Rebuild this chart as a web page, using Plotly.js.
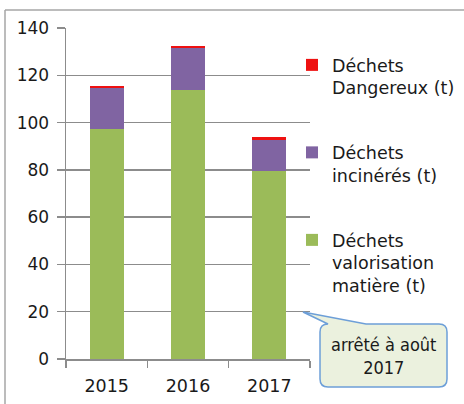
<!DOCTYPE html>
<html>
<head>
<meta charset="utf-8">
<script src="https://cdn.plot.ly/plotly-3.0.1.min.js"></script>
<style>html,body{margin:0;padding:0;background:#fff;}#chart{width:464px;height:404px;}</style>
</head>
<body>
<div id="chart"></div>
<script>
var years = ['2015', '2016', '2017'];
var valorisation = [97.2, 113.6, 79.7];
var incineres = [17.3, 17.9, 13.1];
var dangereux = [1.0, 1.0, 0.9];
var seriesNames = ['Déchets<br>valorisation<br>matière (t)', 'Déchets<br>incinérés (t)', 'Déchets<br>Dangereux (t)'];
var yTicks = [0, 20, 40, 60, 80, 100, 120, 140];
var noteText = 'arrêté à août<br>2017';

var W = 464, H = 404;
var M = {l: 66, r: 154, t: 28, b: 45, autoexpand: false};
var pw = W - M.l - M.r, ph = H - M.t - M.b;
function px(x) { return (x - M.l) / pw; }
function py(y) { return (H - M.b - y) / ph; }
function pt(x, y) { return px(x).toFixed(4) + ',' + py(y).toFixed(4); }

var font = '"DejaVu Sans", Verdana, sans-serif';
var noteFont = '"DejaVu Sans Condensed", "DejaVu Sans", sans-serif';
var txt = '#1a1a1a';
var colors = ['#9bbb59', '#8064a2', '#ee1111'];
var ranks = [3, 2, 1];
var vals = [valorisation, incineres, dangereux];
var traces = vals.map(function (v, i) {
  return {type: 'bar', x: years, y: v, name: seriesNames[i], legendgroup: 'g' + i, legendrank: ranks[i],
    marker: {color: colors[i], line: {width: 0}}, hoverinfo: 'y'};
});

var callout = 'M' + pt(328, 324) + ' L' + pt(303, 312) + ' L' + pt(366, 324) + ' L' + pt(439, 324) +
  ' Q' + pt(447, 324) + ' ' + pt(447, 332) + ' L' + pt(447, 379) + ' Q' + pt(447, 387) + ' ' + pt(439, 387) +
  ' L' + pt(328, 387) + ' Q' + pt(320, 387) + ' ' + pt(320, 379) + ' L' + pt(320, 332) +
  ' Q' + pt(320, 324) + ' ' + pt(328, 324) + ' Z';

var layout = {
  width: W, height: H,
  margin: M,
  paper_bgcolor: '#ffffff', plot_bgcolor: '#ffffff',
  barmode: 'stack', bargap: 0.58,
  font: {family: font, size: 16, color: txt},
  xaxis: {type: 'category', tickson: 'boundaries', ticks: 'outside', ticklen: 7, tickwidth: 1.5,
    tickcolor: '#8c8c8c', showline: true, linecolor: '#8c8c8c', linewidth: 1.5,
    showgrid: false, tickfont: {family: font, size: 17.5, color: txt}, ticklabelstandoff: 10},
  yaxis: {range: [0, 140], tickvals: yTicks, ticks: 'outside', ticklen: 8, tickwidth: 1.5,
    tickcolor: '#8c8c8c', showline: true, linecolor: '#8c8c8c', linewidth: 1.5,
    showgrid: true, gridcolor: '#8c8c8c', gridwidth: 1.5, zeroline: false,
    tickfont: {family: font, size: 17, color: txt}, ticklabelstandoff: 4},
  showlegend: true,
  legend: {x: px(292), xanchor: 'left', y: py(47), yanchor: 'top',
    traceorder: 'grouped', tracegroupgap: 39, valign: 'top',
    font: {family: font, size: 17.5, color: txt}, bgcolor: 'rgba(0,0,0,0)'},
  shapes: [
    {type: 'path', xref: 'paper', yref: 'paper', path: callout,
      fillcolor: '#ebf1de', line: {color: '#6d9fd8', width: 1.5}},
    {type: 'line', xref: 'paper', yref: 'paper', x0: px(5), x1: px(464), y0: py(10), y1: py(10),
      line: {color: '#a6a6a6', width: 1.5}},
    {type: 'line', xref: 'paper', yref: 'paper', x0: px(5), x1: px(5), y0: py(10), y1: py(404),
      line: {color: '#a6a6a6', width: 1.5}}
  ],
  annotations: [
    {xref: 'paper', yref: 'paper', x: px(383.5), y: py(355.5), text: noteText, showarrow: false,
      xanchor: 'center', yanchor: 'middle', align: 'center',
      font: {family: noteFont, size: 18, color: txt}}
  ]
};

Plotly.newPlot('chart', traces, layout, {staticPlot: true, displayModeBar: false});
</script>
</body>
</html>
